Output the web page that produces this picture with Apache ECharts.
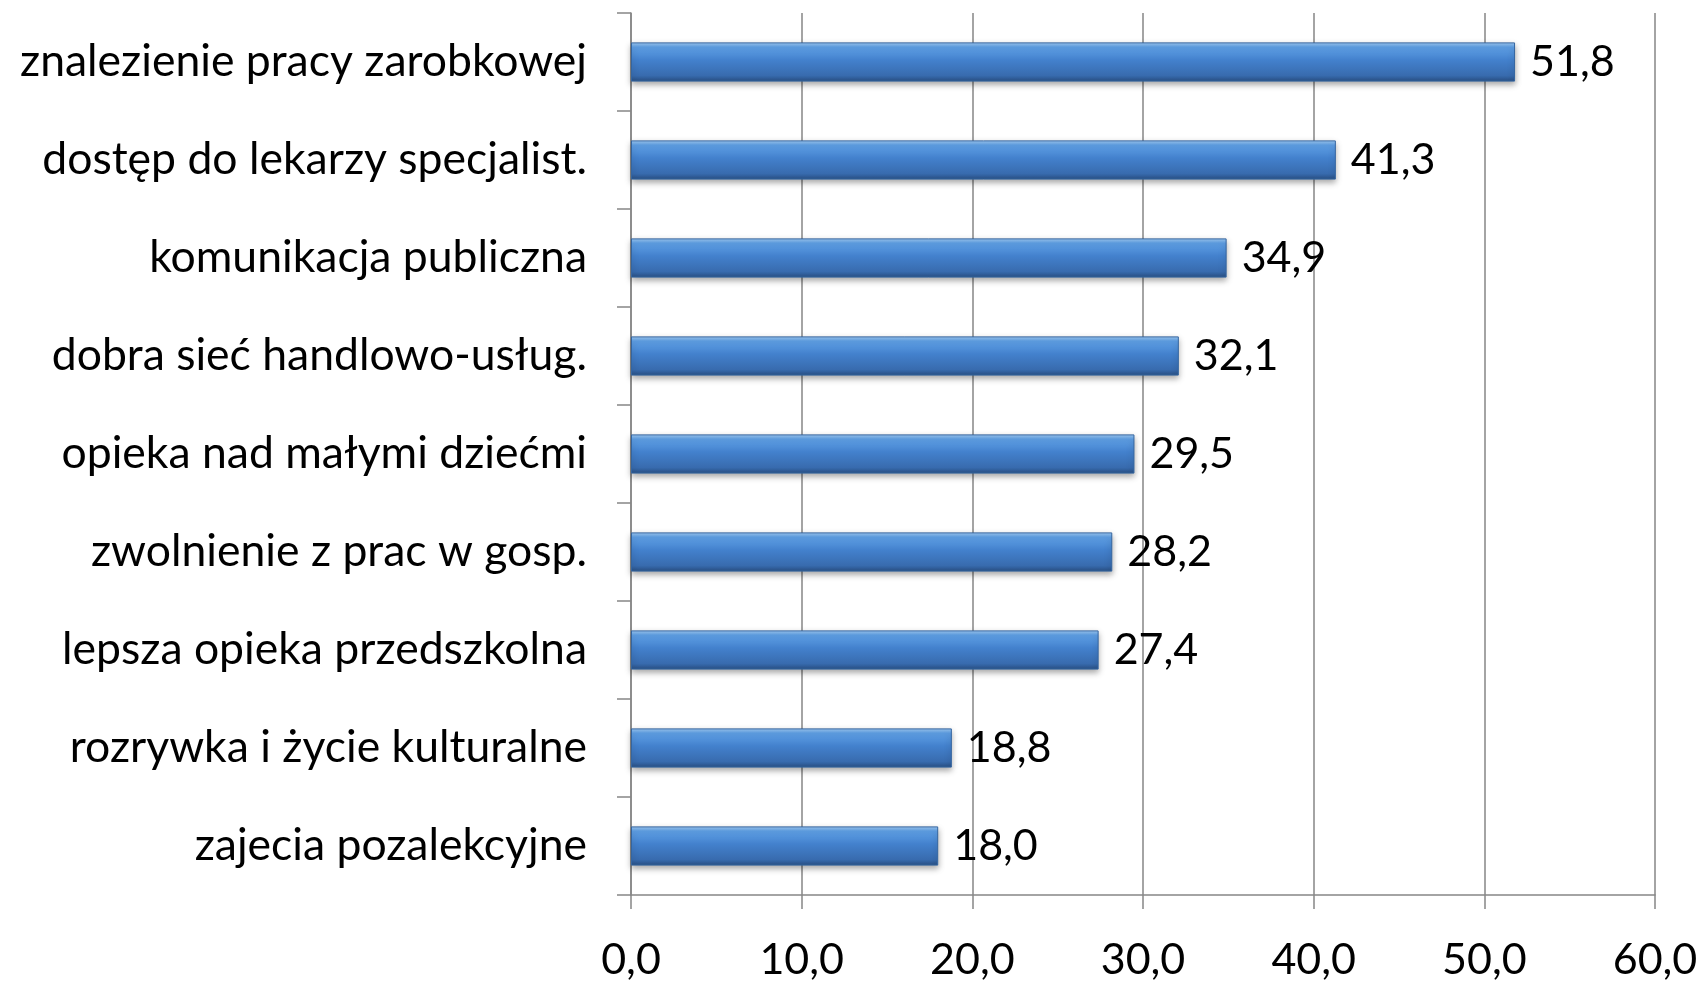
<!DOCTYPE html>
<html>
<head>
<meta charset="utf-8">
<script src="https://cdn.jsdelivr.net/npm/echarts@6/dist/echarts.min.js"></script>
<style>html,body{margin:0;padding:0;background:#fff}#c{width:1704px;height:982px}</style>
</head>
<body>
<div id="c"></div>
<script>
const categories = [
  "znalezienie pracy zarobkowej",
  "dostęp do lekarzy specjalist.",
  "komunikacja publiczna",
  "dobra sieć handlowo-usług.",
  "opieka nad małymi dziećmi",
  "zwolnienie z prac w gosp.",
  "lepsza opieka przedszkolna",
  "rozrywka i życie kulturalne",
  "zajecia pozalekcyjne"
];
const values = [51.8, 41.3, 34.9, 32.1, 29.5, 28.2, 27.4, 18.8, 18.0];
const xTicks = [0, 10, 20, 30, 40, 50, 60];

const FONT = "Lato, 'Noto Sans', sans-serif";
const chart = echarts.init(document.getElementById('c'));
chart.setOption({
  animation: false,
  backgroundColor: '#fff',
  grid: { left: 631, right: 49, top: 13, bottom: 80, containLabel: false },
  xAxis: {
    type: 'value',
    min: xTicks[0], max: xTicks[xTicks.length - 1], interval: 10,
    axisLine: { show: true, lineStyle: { color: '#868686', width: 1.5 } },
    axisTick: { show: true, length: 14, lineStyle: { color: '#868686', width: 1.5 } },
    splitLine: { show: true, lineStyle: { color: '#868686', width: 1.5 } },
    axisLabel: {
      margin: 44, color: '#000', fontSize: 43, fontFamily: FONT,
      formatter: v => v.toFixed(1).replace('.', ',')
    }
  },
  yAxis: {
    type: 'category', inverse: true, data: categories,
    axisLine: { show: true, lineStyle: { color: '#868686', width: 1.5 } },
    axisTick: { show: true, length: 14, lineStyle: { color: '#868686', width: 1.5 } },
    axisLabel: { margin: 44, color: '#000', fontSize: 44.5, fontFamily: FONT }
  },
  series: [{
    type: 'bar',
    data: values,
    barWidth: '40%',
    itemStyle: {
      color: new echarts.graphic.LinearGradient(0, 0, 0, 1, [
        { offset: 0, color: '#A2CCF4' },
        { offset: 0.12, color: '#5FA0E6' },
        { offset: 0.45, color: '#4381CD' },
        { offset: 0.85, color: '#386BAE' },
        { offset: 1, color: '#284F82' }
      ]),
      borderColor: '#3465A0', borderWidth: 1,
      shadowColor: 'rgba(0,0,0,0.35)', shadowBlur: 6, shadowOffsetY: 3
    },
    label: {
      show: true, position: 'right', distance: 15,
      color: '#000', fontSize: 43, fontFamily: FONT,
      formatter: p => p.value.toFixed(1).replace('.', ',')
    }
  }]
});
</script>
</body>
</html>
